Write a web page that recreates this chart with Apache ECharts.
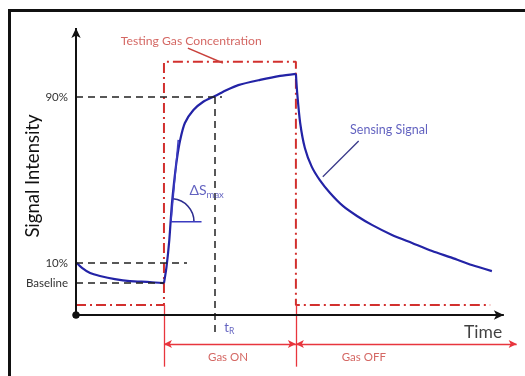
<!DOCTYPE html>
<html><head><meta charset="utf-8">
<script src="https://cdn.jsdelivr.net/npm/echarts@6/dist/echarts.min.js"></script>
<style>html,body{margin:0;padding:0;background:#fff}#c{width:525px;height:376px}</style>
</head><body><div id="c"></div>
<script>
// ---- data (time units 0..100, intensity units 0..100) ----
const baselineDecay = [[0.2,18.1],[1.4,16.4],[3.3,14.6],[5.6,13.6],[9.1,12.5],[12.6,11.8],[17.3,11.5],[20.6,11.1]];
const riseCurve = [[20.6,11.1],[21.2,16.8],[21.85,26.1],[22.4,37.7],[22.95,46.0],[23.6,54.0],[24.4,61.0],[25.5,66.9],[27.5,71.4],[29.8,74.3],[32.55,76.3],[35.3,78.4],[38.0,80.1],[43.1,81.9],[47.8,83.3],[51.5,84.0]];
const fallCurve = [[51.5,84.0],[51.8,77.4],[52.5,66.9],[53.6,58.2],[55.2,51.7],[57.1,47.0],[59.5,42.5],[62.5,38.0],[65.8,34.5],[69.3,31.4],[74.0,27.9],[78.7,25.1],[83.4,22.3],[88.1,19.9],[92.7,17.4],[97.4,15.3]];
const gasConcentration = [[0,3.5],[20.6,3.5],[20.6,88.2],[51.5,88.2],[51.5,3.5],[97,3.5]];
const levelLabels = ['Baseline','10%','90%'];
const levelValues = [11.1,18.1,76.0];
const levelEnds = [20.6,26.0,34.2];
const gasOnTime = 20.6, gasOffTime = 51.5, responseTime = 32.6, phaseEnd = 103.2;
const tangentLine = [[22.25,32.5],[23.95,61.0]];
const slopeBase = [[22.25,32.5],[29.4,32.5]];

const FONT = 'Lato';
const BLUE = '#2323a6';
const chart = echarts.init(document.getElementById('c'), null, {renderer:'canvas'});

const levelLines = levelValues.map((v,i)=>[
  {coord:[0,v], label:{show:true, formatter:levelLabels[i], position:'start', distance:8, color:'#333', fontSize:11.5, fontFamily:FONT}},
  {coord:[levelEnds[i],v]}
]);

const option = {
  animation:false,
  grid:{left:76, top:28, width:448.35, height:344.4},
  xAxis:{type:'value', min:0, max:105, show:false},
  yAxis:{type:'value', min:-20, max:100, show:false},
  series:[
    {type:'line', data:gasConcentration, symbol:'none', lineStyle:{color:'#d2302e', width:2, type:[10,4,2,4]}, z:2},
    {type:'line', data:[], markLine:{silent:true, symbol:'none', label:{show:false},
      lineStyle:{color:'#222', width:1.5, type:[7,5]}, data: levelLines.concat([
        [{coord:[responseTime,76.0]},{coord:[responseTime,-6]}]
      ])}},
    {type:'line', data:[], markLine:{silent:true, symbol:'none', label:{show:false},
      lineStyle:{color:'#e8353d', width:1.3, type:'solid'}, data:[
        [{coord:[gasOnTime,3.5]},{coord:[gasOnTime,-18]}],
        [{coord:[gasOffTime,3.5]},{coord:[gasOffTime,-18]}]
      ]}},
    {type:'line', data:[], markLine:{silent:true, symbol:['arrow','arrow'], symbolSize:[6,8], label:{show:false},
      lineStyle:{color:'#e8353d', width:1.3, type:'solid'}, data:[
        [{coord:[gasOnTime,-10.1]},{coord:[gasOffTime,-10.1]}],
        [{coord:[gasOffTime,-10.1]},{coord:[phaseEnd,-10.1]}]
      ]}},
    {type:'line', data:[], markLine:{silent:true, symbol:['circle','arrow'], symbolSize:[7,10], label:{show:false},
      lineStyle:{color:'#111', width:2, type:'solid'}, data:[
        [{coord:[0,0]},{coord:[0,100]}],
        [{coord:[0,0]},{coord:[100.2,0]}]
      ]}, z:5},
    {type:'line', data:baselineDecay, symbol:'none', smooth:0.25, lineStyle:{color:BLUE, width:2.2}, z:4},
    {type:'line', data:riseCurve, symbol:'none', smooth:0.25, lineStyle:{color:BLUE, width:2.2}, z:4},
    {type:'line', data:fallCurve, symbol:'none', smooth:0.25, lineStyle:{color:BLUE, width:2.2}, z:4},
    {type:'line', data:tangentLine, symbol:'none', lineStyle:{color:'#3b3bc0', width:1.5}, z:4},
    {type:'line', data:slopeBase, symbol:'none', lineStyle:{color:'#3b3bc0', width:1.5}, z:4},
    {type:'line', data:[], markLine:{silent:true, symbol:['none','none'], label:{show:false},
      lineStyle:{color:'#c9413c', width:1.5, type:'solid'}, data:[
        [{coord:[26.2,93.0]},{coord:[34.4,87.8]}]
      ]}},
    {type:'line', data:[], markLine:{silent:true, symbol:'none', label:{show:false},
      lineStyle:{color:'#3a3a8a', width:1.3, type:'solid'}, data:[
        [{coord:[66.2,60.6]},{coord:[57.8,48.2]}]
      ]}},
    {type:'scatter', symbolSize:0, silent:true, z:6,
      label:{show:true, position:'inside', fontFamily:FONT},
      data:[
        {value:[27.0,95.5], label:{formatter:'Testing Gas Concentration', color:'#c9413c', fontSize:12.2}},
        {value:[73.3,64.5], label:{formatter:'Sensing Signal', color:'#3b3bb0', fontSize:12.5}},
        {value:[35.6,-14.9], label:{formatter:'Gas ON', color:'#c9413c', fontSize:11.5}},
        {value:[67.4,-14.6], label:{formatter:'Gas OFF', color:'#c9413c', fontSize:11.5}},
        {value:[99.8,-5.9], label:{formatter:'Time', color:'#111', fontSize:17.5, align:'right'}},
        {value:[35.9,-4.6], label:{formatter:'{t|t}{s|R}', rich:{t:{fontSize:13, color:'#3b3bb0', fontFamily:FONT}, s:{fontSize:8.5, color:'#3b3bb0', fontFamily:FONT, verticalAlign:'bottom', padding:[6,0,0,0]}}}},
        {value:[30.6,43.4], label:{formatter:'{d|ΔS}{s|max}', rich:{d:{fontSize:14, color:'#3b3bb0', fontFamily:FONT}, s:{fontSize:9.5, color:'#3b3bb0', fontFamily:FONT, verticalAlign:'bottom', padding:[8,0,0,0]}}}}
      ]}
  ]
};
chart.setOption(option);

const c0 = chart.convertToPixel({gridIndex:0}, slopeBase[0]);
const t1 = chart.convertToPixel({gridIndex:0}, tangentLine[1]);
const ang = Math.atan2(c0[1]-t1[1], t1[0]-c0[0]);
chart.setOption({graphic:[
  {type:'rect', shape:{x:9.5, y:10.5, width:530, height:400}, style:{fill:'none', stroke:'#111', lineWidth:3}, silent:true},
  {type:'arc', shape:{cx:c0[0], cy:c0[1], r:23, startAngle:-ang, endAngle:0}, style:{fill:'none', stroke:'#2d2d90', lineWidth:1.6}, silent:true},
  {type:'text', x:33, y:176, rotation:Math.PI/2, style:{text:'Signal Intensity', fontSize:18.5, fontFamily:FONT, fill:'#111', align:'center', verticalAlign:'middle'}, silent:true}
]});
</script></body></html>
